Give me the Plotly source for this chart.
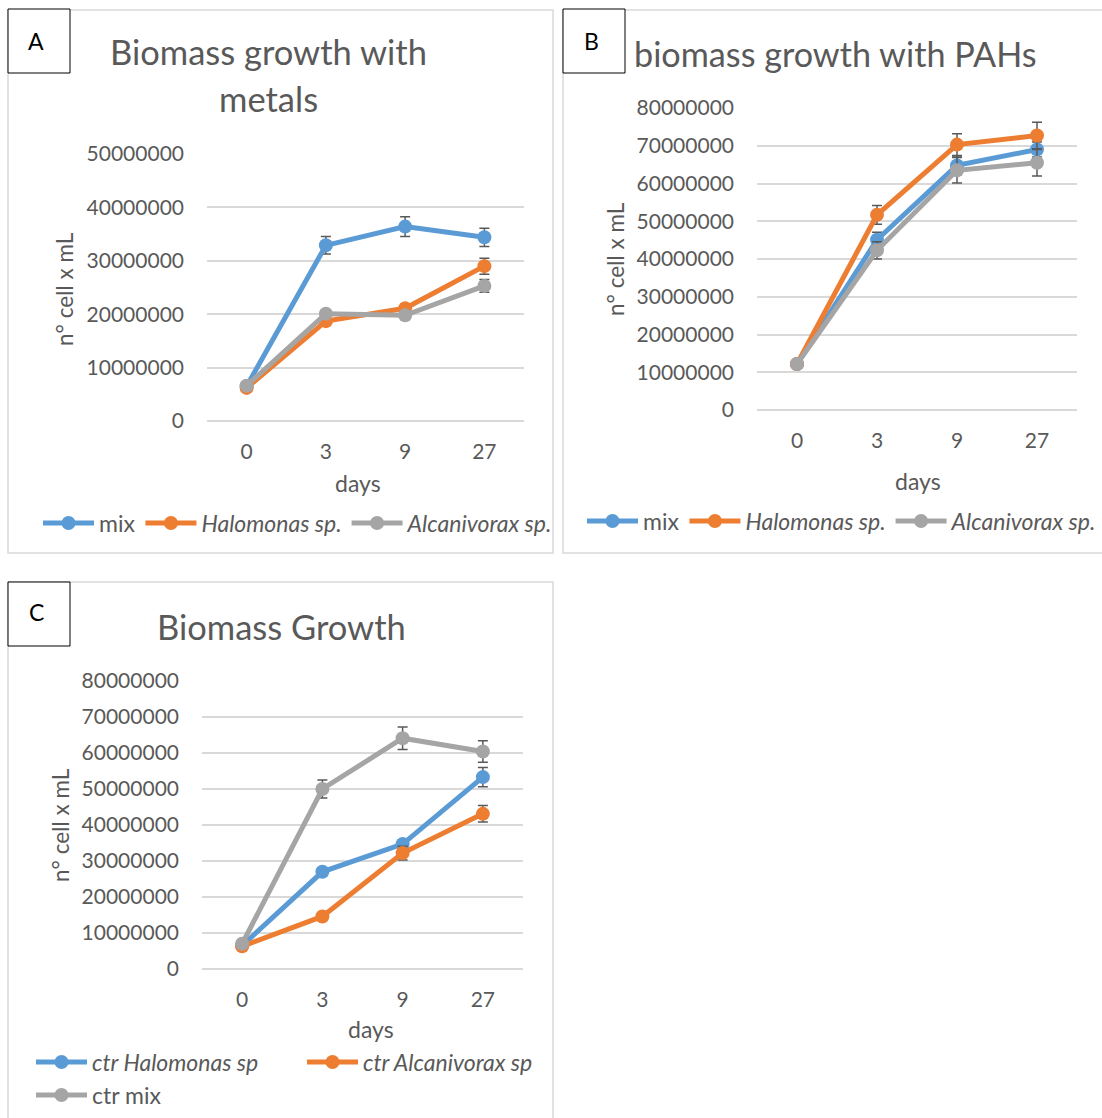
import plotly.graph_objects as go

W, H = 1102, 1118

# ---------------- data ----------------
days = ["0", "3", "9", "27"]

metals_mix = [6.5e6, 32.9e6, 36.4e6, 34.4e6]
metals_mix_err = [0.3e6, 1.65e6, 1.85e6, 1.7e6]
metals_halo = [6.2e6, 18.7e6, 21.1e6, 29.0e6]
metals_halo_err = [0.3e6, 0.8e6, 0.8e6, 1.5e6]
metals_alca = [6.6e6, 20.1e6, 19.8e6, 25.3e6]
metals_alca_err = [0.3e6, 0.7e6, 0.8e6, 1.2e6]

pahs_mix = [12.2e6, 45.1e6, 64.8e6, 69.0e6]
pahs_mix_err = [0.5e6, 2.0e6, 2.5e6, 2.0e6]
pahs_halo = [12.2e6, 51.7e6, 70.3e6, 72.7e6]
pahs_halo_err = [0.5e6, 2.5e6, 2.9e6, 3.5e6]
pahs_alca = [12.2e6, 42.3e6, 63.5e6, 65.5e6]
pahs_alca_err = [0.5e6, 2.3e6, 3.4e6, 3.5e6]

ctr_halo = [6.5e6, 27.0e6, 34.7e6, 53.3e6]
ctr_halo_err = [0.5e6, 1.0e6, 1.2e6, 2.7e6]
ctr_alca = [6.3e6, 14.6e6, 32.2e6, 43.1e6]
ctr_alca_err = [0.5e6, 0.8e6, 1.9e6, 2.3e6]
ctr_mix = [7.0e6, 50.0e6, 64.1e6, 60.4e6]
ctr_mix_err = [0.5e6, 2.5e6, 3.1e6, 3.0e6]

BLUE, ORANGE, GRAY = "#5B9BD5", "#ED7D31", "#A5A5A5"
TXT = "#595959"
FONT = "Lato"


def px(x):
    return x / W


def py(y):
    return 1 - y / H


fig = go.Figure()


def add(xa, ya, y, err, color, name, legend):
    fig.add_trace(go.Scatter(
        x=days, y=y, name=name, mode="lines+markers",
        xaxis=xa, yaxis=ya, legend=legend,
        line=dict(color=color, width=5),
        marker=dict(color=color, size=14),
        error_y=dict(type="data", array=err, visible=True,
                     color=TXT, thickness=1.5, width=5),
    ))


add("x", "y", metals_mix, metals_mix_err, BLUE, "mix", "legend")
add("x", "y", metals_halo, metals_halo_err, ORANGE, "<i>Halomonas sp.</i>", "legend")
add("x", "y", metals_alca, metals_alca_err, GRAY, "<i>Alcanivorax sp.</i>", "legend")

add("x2", "y2", pahs_mix, pahs_mix_err, BLUE, "mix", "legend2")
add("x2", "y2", pahs_halo, pahs_halo_err, ORANGE, "<i>Halomonas sp.</i>", "legend2")
add("x2", "y2", pahs_alca, pahs_alca_err, GRAY, "<i>Alcanivorax sp.</i>", "legend2")

add("x3", "y3", ctr_halo, ctr_halo_err, BLUE, "<i>ctr Halomonas sp</i>", "legend3")
add("x3", "y3", ctr_alca, ctr_alca_err, ORANGE, "<i>ctr Alcanivorax sp</i>", "legend3")
add("x3", "y3", ctr_mix, ctr_mix_err, GRAY, "ctr mix", "legend4")

xcommon = dict(type="category", range=[-0.5, 3.5], showgrid=False, zeroline=False,
               showline=False, ticks="", tickfont=dict(family=FONT, size=21, color=TXT),
               ticklabelstandoff=16, fixedrange=True, automargin=False)
ycommon = dict(showgrid=True, gridcolor="#D9D9D9", gridwidth=1.5, zeroline=True,
               zerolinecolor="#D9D9D9", zerolinewidth=1.5, showline=False, ticks="",
               tickformat="d", tickfont=dict(family=FONT, size=21, color=TXT),
               dtick=10e6, fixedrange=True, automargin=False, ticklabelstandoff=22)

fig.update_layout(
    width=W, height=H, margin=dict(l=0, r=0, t=0, b=0, pad=0, autoexpand=False),
    paper_bgcolor="white", plot_bgcolor="white",
    font=dict(family=FONT, color=TXT),
    xaxis=dict(domain=[px(207), px(524)], anchor="y", **xcommon),
    yaxis=dict(domain=[py(421), py(154)], anchor="x", range=[0, 50e6], **ycommon),
    xaxis2=dict(domain=[px(757), px(1077)], anchor="y2", **xcommon),
    yaxis2=dict(domain=[py(410), py(108)], anchor="x2", range=[0, 80e6], **ycommon),
    xaxis3=dict(domain=[px(202), px(523)], anchor="y3", **xcommon),
    yaxis3=dict(domain=[py(969), py(681)], anchor="x3", range=[0, 80e6], **ycommon),
)

legfont = dict(family=FONT, size=23, color=TXT)
legcommon = dict(orientation="h", xanchor="left", yanchor="middle", font=legfont,
                 bgcolor="rgba(0,0,0,0)", itemwidth=51)
fig.update_layout(
    legend=dict(x=px(38), y=py(523), **legcommon),
    legend2=dict(x=px(582), y=py(521), **legcommon),
    legend3=dict(x=px(31), y=py(1062), entrywidth=205, **legcommon),
    legend4=dict(x=px(31), y=py(1095), **legcommon),
)

shapes = []
# panel borders
for (x0, y0, x1, y1) in [(8, 10, 553, 553), (563, 10, 1110, 553), (8, 582, 553, 1130)]:
    shapes.append(dict(type="rect", xref="paper", yref="paper",
                       x0=px(x0), x1=px(x1), y0=py(y0), y1=py(y1),
                       line=dict(color="#D9D9D9", width=1.5), fillcolor="rgba(0,0,0,0)",
                       layer="below"))
# label boxes
for (x0, y0, x1, y1) in [(8, 9, 70, 73), (563, 9, 625, 73), (8, 582, 70, 646)]:
    shapes.append(dict(type="rect", xref="paper", yref="paper",
                       x0=px(x0), x1=px(x1), y0=py(y0), y1=py(y1),
                       line=dict(color="black", width=1), fillcolor="white", layer="above"))
fig.update_layout(shapes=shapes)

ann = []


def text(x, y, s, size, color=TXT, angle=0):
    ann.append(dict(x=px(x), y=py(y), xref="paper", yref="paper", text=s, showarrow=False,
                    xanchor="center", yanchor="middle", textangle=angle,
                    font=dict(family=FONT, size=size, color=color)))


# panel letters
text(36, 41, "A", 23, "black")
text(591, 41, "B", 23, "black")
text(36, 612, "C", 23, "black")
# titles
text(268, 52, "Biomass growth with", 34.5)
text(268, 98, "metals", 34.5)
text(835, 53, "biomass growth with PAHs", 34.2)
text(281, 626, "Biomass Growth", 34.5)
# axis titles
text(65, 289, "n° cell x mL", 22.5, angle=-90)
text(358, 483, "days", 23)
text(615, 259, "n° cell x mL", 22.5, angle=-90)
text(918, 481, "days", 23)
text(60, 825, "n° cell x mL", 22.5, angle=-90)
text(371, 1029, "days", 23)
fig.update_layout(annotations=ann)

fig.write_html("out.html")
